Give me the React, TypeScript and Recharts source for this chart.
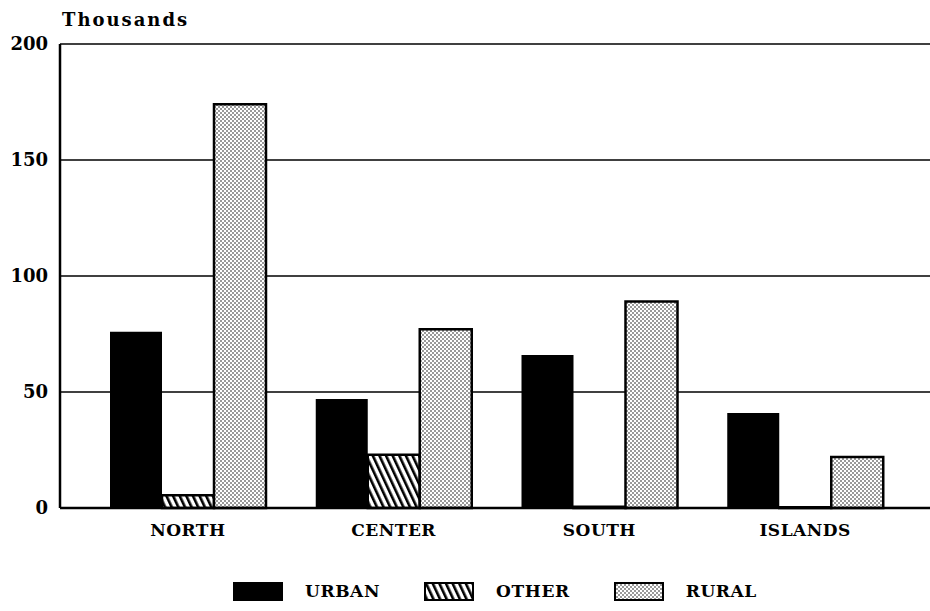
import { BarChart, Bar, XAxis, YAxis, CartesianGrid, Legend } from 'recharts';

const regions = ['NORTH', 'CENTER', 'SOUTH', 'ISLANDS'];
const urban = [76, 47, 66, 41];
const other = [5.5, 23, 0.5, 0.3];
const rural = [174, 77, 89, 22];
const yTicks = [0, 50, 100, 150, 200];

const seriesInfo = [
  { key: 'urban', label: 'URBAN', fill: '#000' },
  { key: 'other', label: 'OTHER', fill: 'url(#hatch)' },
  { key: 'rural', label: 'RURAL', fill: 'url(#dots)' },
];

const font = "'DejaVu Serif', 'Liberation Serif', serif";

const data = regions.map((name, i) => ({
  name,
  urban: urban[i],
  other: other[i],
  rural: rural[i],
}));

function LegendBox() {
  return (
    <div style={{ display: 'flex', alignItems: 'center', fontFamily: font, fontWeight: 'bold', fontSize: 17, letterSpacing: 0.6 }}>
      {seriesInfo.map((s, i) => (
        <div key={s.key} style={{ display: 'flex', alignItems: 'center', marginRight: i < 2 ? 44 : 0 }}>
          <svg width={50} height={19} style={{ marginRight: 22 }}>
            <defs>
              <pattern id={`lg-hatch-${i}`} width="6" height="6" patternUnits="userSpaceOnUse" patternTransform="rotate(-25)">
                <rect width="6" height="6" fill="#fff" />
                <rect x="0" width="2.6" height="6" fill="#000" />
              </pattern>
              <pattern id={`lg-dots-${i}`} width="4" height="4" patternUnits="userSpaceOnUse">
                <rect width="4" height="4" fill="#fff" />
                <circle cx="1" cy="1" r="0.75" fill="#000" />
                <circle cx="3" cy="3" r="0.75" fill="#000" />
              </pattern>
            </defs>
            <rect
              x={1}
              y={1}
              width={48}
              height={17}
              fill={s.key === 'urban' ? '#000' : s.key === 'other' ? `url(#lg-hatch-${i})` : `url(#lg-dots-${i})`}
              stroke="#000"
              strokeWidth={2}
            />
          </svg>
          <span>{s.label}</span>
        </div>
      ))}
    </div>
  );
}

export default function App() {
  return (
    <div style={{ position: 'absolute', left: 0, top: 0, width: 930, height: 611, background: '#fff' }}>
      <div
        style={{
          position: 'absolute',
          left: 62,
          top: 9,
          fontFamily: font,
          fontWeight: 'bold',
          fontSize: 18,
          letterSpacing: 2,
          color: '#000',
        }}
      >
        Thousands
      </div>
      <BarChart
        width={930}
        height={611}
        data={data}
        margin={{ top: 44, right: 0, left: 0, bottom: 33 }}
        barGap={0}
        barCategoryGap={25}
      >
        <defs>
          <pattern id="hatch" width="6" height="6" patternUnits="userSpaceOnUse" patternTransform="rotate(-25)">
            <rect width="6" height="6" fill="#fff" />
            <rect x="0" width="2.6" height="6" fill="#000" />
          </pattern>
          <pattern id="dots" width="4" height="4" patternUnits="userSpaceOnUse">
            <rect width="4" height="4" fill="#fff" />
            <circle cx="1" cy="1" r="0.75" fill="#000" />
            <circle cx="3" cy="3" r="0.75" fill="#000" />
          </pattern>
        </defs>
        <CartesianGrid vertical={false} stroke="#000" strokeWidth={1.5} />
        <XAxis
          dataKey="name"
          height={40}
          padding={{ left: 25, right: 22 }}
          tickLine={false}
          axisLine={{ stroke: '#000', strokeWidth: 2.5 }}
          tickMargin={10}
          tick={{ fill: '#000', fontFamily: font, fontWeight: 'bold', fontSize: 17, letterSpacing: 0.5 }}
        />
        <YAxis
          width={60}
          domain={[0, 200]}
          ticks={yTicks}
          tickLine={false}
          axisLine={{ stroke: '#000', strokeWidth: 2.5 }}
          tickMargin={6}
          tick={{ fill: '#000', fontFamily: font, fontWeight: 'bold', fontSize: 18 }}
        />
        <Legend
          verticalAlign="bottom"
          content={() => <LegendBox />}
          wrapperStyle={{ left: 233, top: 581, width: 650, height: 30 }}
        />
        {seriesInfo.map((s) => (
          <Bar
            key={s.key}
            dataKey={s.key}
            name={s.label}
            fill={s.fill}
            stroke={s.key === 'urban' ? 'none' : '#000'}
            strokeWidth={2.5}
            isAnimationActive={false}
          />
        ))}
      </BarChart>
    </div>
  );
}
